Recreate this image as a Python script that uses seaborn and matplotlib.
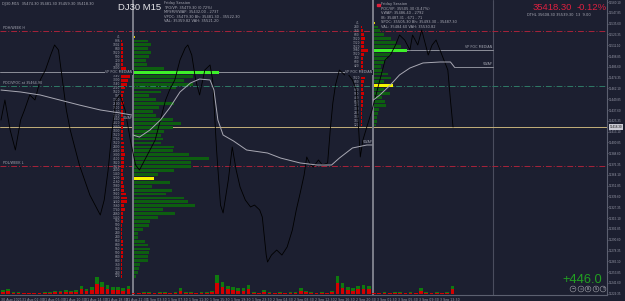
import numpy as np
import pandas as pd
import matplotlib
matplotlib.use("Agg")
import matplotlib.pyplot as plt
import matplotlib.transforms as mtransforms
import seaborn as sns

# ---------------- data ----------------
time_labels = ["30 Aug 2021", "31 Aug 02:30", "31 Aug 06:30", "31 Aug 10:30", "31 Aug 14:30",
               "31 Aug 18:30", "31 Aug 22:30", "1 Sep 03:30", "1 Sep 07:30", "1 Sep 11:30",
               "1 Sep 15:30", "1 Sep 19:30", "1 Sep 23:30", "2 Sep 04:30", "2 Sep 08:30",
               "2 Sep 12:30", "2 Sep 16:30", "2 Sep 20:30", "3 Sep 01:30", "3 Sep 05:30",
               "3 Sep 09:30", "3 Sep 13:30"]
bars_per_label = 16

price_ticks = [35560.10, 35547.85, 35535.60, 35523.35, 35511.10, 35498.85, 35486.60,
               35474.35, 35462.10, 35449.85, 35437.60, 35425.35, 35413.10, 35400.85,
               35388.60, 35376.35, 35364.10, 35351.85, 35339.60, 35327.35, 35315.10,
               35302.85, 35290.60, 35278.35, 35266.10, 35253.85, 35241.60, 35229.35]

price_bar = [0, 3, 7, 11, 15, 18, 22, 26, 30, 34, 38, 41, 44, 47, 50, 53, 57, 60, 64, 68,
             72, 76, 79, 82, 85, 88, 91, 95, 99, 103, 106, 110, 114, 118, 122, 126, 129, 133,
             137, 141, 143, 146, 149, 152, 156, 160, 162, 165, 168, 170, 174, 177, 180, 183,
             187, 191, 194, 198, 200, 203, 204, 207, 211, 215, 219, 223, 226, 229, 232, 234,
             237, 239, 243, 246, 250, 252, 254, 256, 259, 263, 265, 269, 272, 275, 277, 280,
             284, 287, 290, 294, 298, 302, 305, 309, 313, 315, 319, 322, 327, 330, 333, 336,
             339, 342, 344, 346]
price_close = [35426.3, 35449.0, 35415.0, 35392.3, 35426.3, 35437.7, 35454.7, 35449.0, 35471.7,
               35483.0, 35500.0, 35511.4, 35505.7, 35471.7, 35437.7, 35415.0, 35392.3, 35375.3,
               35358.3, 35341.3, 35329.9, 35318.6, 35335.6, 35369.6, 35415.0, 35449.0, 35454.7,
               35437.7, 35403.6, 35375.3, 35369.6, 35381.0, 35392.3, 35403.6, 35426.3, 35449.0,
               35460.3, 35471.7, 35494.4, 35508.0, 35511.4, 35500.0, 35471.7, 35454.7, 35483.0,
               35488.7, 35471.7, 35392.3, 35329.9, 35320.9, 35358.3, 35395.7, 35369.6, 35350.3,
               35335.6, 35327.7, 35329.9, 35324.3, 35316.3, 35273.2, 35265.3, 35273.2, 35278.9,
               35273.2, 35282.3, 35301.6, 35324.3, 35343.5, 35364.0, 35384.4, 35375.3, 35373.0,
               35381.0, 35375.3, 35377.6, 35415.0, 35445.6, 35466.0, 35483.0, 35477.4, 35479.6,
               35471.7, 35460.3, 35384.4, 35403.6, 35418.4, 35437.7, 35454.7, 35471.7, 35494.4,
               35500.0, 35511.4, 35522.7, 35517.0, 35505.7, 35522.7, 35511.4, 35528.4, 35500.0,
               35511.4, 35517.0, 35505.7, 35494.4, 35483.0, 35449.0, 35418.3]

vwap0_bar = [0, 15, 30, 45, 60, 76, 91, 100]
vwap0 = [35460.3, 35458.1, 35454.7, 35449.0, 35443.3, 35437.7, 35434.3, 35432.0]
vwap1_bar = [101, 106, 114, 122, 129, 137, 145, 152, 160, 163, 166, 170, 178, 188, 204, 214,
             229, 242, 253, 259, 269, 280, 284]
vwap1 = [35409.3, 35407.0, 35415.0, 35426.3, 35439.9, 35458.1, 35468.3, 35472.8, 35471.7,
         35460.3, 35426.3, 35409.3, 35402.5, 35392.3, 35388.9, 35383.2, 35377.6, 35375.3,
         35375.3, 35383.2, 35394.6, 35398.0, 35398.0]
vwap2_bar = [285, 290, 298, 305, 313, 323, 336, 344, 347]
vwap2 = [35449.0, 35454.7, 35466.0, 35477.4, 35485.3, 35491.0, 35492.1, 35492.1, 35486.4]

session_start = [101, 285]
future_line_bar = 376.5
row_step = 4.45

profile1_top = 35520.4
profile1_vol = [41, 836, 1002, 840, 1020, 900, 720, 780, 1800, 5100, 3540, 3000, 3540, 2520,
                1620, 900, 1320, 2400, 1500, 1140, 1320, 2340, 2820, 2340, 1800, 1620, 1740,
                1620, 2400, 2340, 3300, 4500, 3420, 3420, 2400, 1440, 1200, 2160, 1080, 2280,
                1920, 3000, 3240, 3660, 1740, 2460, 1440, 960, 900, 540, 240, 240, 660, 840,
                960, 900, 840, 840, 360, 300, 240, 120]
profile1_sell = [0, 60, 120, 120, 120, 120, 120, 120, 300, 600, 540, 420, 360, 240, 180, 120,
                 120, 180, 120, 120, 120, 180, 180, 120, 120, 120, 120, 180, 180, 180, 240, 180,
                 180, 180, 120, 120, 180, 120, 180, 180, 300, 360, 360, 180, 240, 120, 120, 120,
                 60, 60, 60, 60, 120, 120, 120, 120, 120, 60, 60, 60, 60, 60]
profile1_poc, profile1_val = 9, 36
profile1_val_vol = 1200

profile2_top = 35536.3
profile2_vol = [41, 240, 360, 600, 1020, 1320, 1620, 1980, 1020, 780, 600, 420, 540, 840, 1020,
                600, 420, 600, 960, 480, 660, 720, 300, 240, 180, 180, 120]
profile2_sell = [0, 60, 120, 180, 240, 180, 180, 420, 180, 120, 120, 120, 120, 180, 240, 180,
                 120, 120, 180, 120, 120, 120, 60, 60, 60, 60, 60]
profile2_poc, profile2_val = 7, 16
profile2_val_vol = 1140

vol_total = [400, 500, 200, 200, 150, 150, 150, 150, 200, 200,
             300, 300, 400, 300, 400, 800, 500, 700, 1700, 1200,
             900, 700, 700, 600, 800, 150, 150, 200, 200, 150,
             200, 200, 150, 200, 600, 200, 200, 150, 200, 200,
             300, 1900, 1200, 800, 700, 600, 600, 900, 200, 150,
             400, 200, 150, 200, 150, 200, 200, 600, 300, 200,
             150, 200, 150, 300, 1800, 1100, 700, 600, 800, 900,
             800, 150, 150, 200, 150, 200, 200, 150, 200, 150,
             600, 200, 150, 200, 150, 200, 800]
vol_sell = [200, 300, 100, 100, 80, 80, 80, 80, 100, 100,
            200, 200, 200, 200, 200, 500, 300, 400, 1000, 700,
            500, 400, 400, 300, 500, 80, 80, 100, 100, 80,
            100, 100, 80, 100, 300, 100, 100, 80, 100, 100,
            200, 1100, 700, 500, 400, 300, 300, 500, 100, 80,
            200, 100, 80, 100, 80, 100, 100, 300, 200, 100,
            80, 100, 80, 200, 1100, 600, 400, 300, 500, 500,
            500, 80, 80, 100, 80, 100, 100, 80, 100, 80,
            300, 100, 80, 100, 80, 100, 500]
bars_per_vol_group = 4

level_pdh = 35527.2
level_pdc = 35464.9
level_pdl = 35374.2
poc1_price = 35480.35
poc2_price = 35505.15
vwap2_last = 35486.4
last_price = 35418.30
change_pct = -0.12
profit = 446.0

# ---------------- style ----------------
BG = "#1c1f30"
GRID_TXT = "#9a9cab"
W, H = 625, 301
PX_PER_BAR = 1.3065
X0_BAR = -1 / PX_PER_BAR
X1_BAR = (607 - 1) / PX_PER_BAR
Y_TOP, Y_BOT = 35562.4, 35227.9
PROFILE_SCALE = 1.0 / (60 * PX_PER_BAR)

sns.set_theme(style="dark", rc={"axes.facecolor": BG, "figure.facecolor": BG})
plt.rcParams["font.family"] = ["DejaVu Sans"]

fig = plt.figure(figsize=(W / 100, H / 100), dpi=100, facecolor=BG)
ax = fig.add_axes([0, 6 / H, 607 / W, 295 / H])
ax.set_facecolor(BG)
ax.set_xlim(X0_BAR, X1_BAR)
ax.set_ylim(Y_BOT, Y_TOP)
ax.grid(False)
for s in ["left", "top"]:
    ax.spines[s].set_visible(False)
for s in ["right", "bottom"]:
    ax.spines[s].set_color("#5c6070")
    ax.spines[s].set_linewidth(0.8)

# axes ticks
ax.yaxis.tick_right()
ax.set_yticks(price_ticks)
ax.set_yticklabels([f"{p:.2f}" for p in price_ticks], family=["Liberation Sans"])
ax.tick_params(axis="y", labelsize=2.2, colors=GRID_TXT, length=1.0, width=0.4, pad=0.6)
xt = [i * bars_per_label for i in range(len(time_labels))]
ax.set_xticks(xt)
ax.set_xticklabels(time_labels, ha="left")
ax.tick_params(axis="x", labelsize=2.3, colors=GRID_TXT, length=1.5, width=0.4, pad=0.8)
ax.set_xlabel("")
ax.set_ylabel("")

# vertical separators
for sb in session_start:
    ax.axvline(sb, color="#7c7e8a", lw=1.4, zorder=2)
ax.axvline(future_line_bar, color="#4a4d5e", lw=0.8, zorder=1)

# key horizontal levels
ax.axhline(level_pdh, color="#a8233a", lw=0.7, ls=(0, (6, 2, 1, 2)), zorder=1)
ax.axhline(level_pdc, color="#2f7a66", lw=0.7, ls=(0, (6, 2, 1, 2)), zorder=1)
ax.axhline(level_pdl, color="#a8233a", lw=0.7, ls=(0, (6, 2, 1, 2)), zorder=1)
ax.axhline(last_price, color="#c4b07a", lw=0.7, zorder=1)
ax.plot([X0_BAR, session_start[1]], [poc1_price, poc1_price], color="#8d8f9a", lw=0.7, zorder=1)
ax.plot([session_start[1], future_line_bar], [poc2_price, poc2_price], color="#8d8f9a", lw=0.7, zorder=1)
ax.plot([vwap2_bar[-1], future_line_bar], [vwap2_last, vwap2_last], color="#8d8f9a", lw=0.7, zorder=1)

# volume profiles
def draw_profile(start, top, vols, sells, poc, val, val_vol, label_right, sell_left, hidden_price):
    levels = [top - row_step * i for i in range(len(vols))]
    colors = ["#0d5e10"] * len(vols)
    colors[poc] = "#3ef02a"
    colors[0] = "#e0d000"
    ax.barh(levels, [v * PROFILE_SCALE for v in vols], left=start + 0.8, height=row_step * 0.72,
            color=colors, lw=0, zorder=3)
    ax.barh([levels[val]], [val_vol * PROFILE_SCALE], left=start + 0.8, height=row_step * 0.8,
            color="#f5f500", lw=0, zorder=4)
    ax.barh(levels, [s * PROFILE_SCALE for s in sells], left=sell_left, height=row_step * 0.72,
            color="#d00000", lw=0, zorder=3)
    for lv, v in zip(levels, vols):
        # rows hidden behind the "VP POC MEDIAN" tag of the previous session
        if abs(lv - hidden_price) < row_step * 0.9:
            continue
        ax.text(label_right, lv, f"{v}", fontsize=2.1, color="#a3a5b0", ha="right", va="center",
                zorder=5)

draw_profile(session_start[0], profile1_top, profile1_vol, profile1_sell, profile1_poc,
             profile1_val, profile1_val_vol, 91.2, 91.9, poc1_price)
draw_profile(session_start[1], profile2_top, profile2_vol, profile2_sell, profile2_poc,
             profile2_val, profile2_val_vol, 274.5, 275.5, poc1_price)

# price and vwap lines (seaborn)
df_price = pd.DataFrame({"bar": price_bar, "close": price_close})
sns.lineplot(data=df_price, x="bar", y="close", ax=ax, color="#000000", lw=0.6,
             estimator=None, sort=False, zorder=6)
for vb, vv in [(vwap0_bar, vwap0), (vwap1_bar, vwap1), (vwap2_bar, vwap2)]:
    sns.lineplot(x=vb, y=vv, ax=ax, color="#a9a9b4", lw=0.7, estimator=None, sort=False, zorder=6)
ax.set_xlabel("")
ax.set_ylabel("")

# line labels
txt_kw = dict(fontsize=2.4, color="#a3a5b0", zorder=7)
tag = dict(boxstyle="square,pad=0.15", fc=BG, ec="none")
ax.text(session_start[0] - 0.5, poc1_price, "VP POC MEDIAN", ha="right", va="center", bbox=tag, **txt_kw)
ax.text(session_start[1] - 0.5, poc1_price, "VP POC MEDIAN", ha="right", va="center", bbox=tag, **txt_kw)
ax.text(future_line_bar - 0.5, poc2_price + 1.2, "VP POC MEDIAN", ha="right", va="bottom", **txt_kw)
ax.text(session_start[0] - 0.5, vwap0[-1] - 1.5, "VWAP", ha="right", va="top", **txt_kw)
ax.text(session_start[1] - 0.5, vwap1[-1] + 1.2, "VWAP", ha="right", va="bottom", **txt_kw)
ax.text(future_line_bar - 0.5, vwap2_last + 1.2, "VWAP", ha="right", va="bottom", **txt_kw)
ax.text(1.5, level_pdh + 1.2, "PDH/WEEK H", ha="left", va="bottom", **txt_kw)
ax.text(1.5, level_pdc + 1.2, "PDC/VPOC at 35464.90", ha="left", va="bottom", **txt_kw)
ax.text(1.5, level_pdl + 1.2, "PDL/WEEK L", ha="left", va="bottom", **txt_kw)

# current price box on axis
trans = mtransforms.blended_transform_factory(ax.transAxes, ax.transData)
ax.text(1.004, last_price, f"{last_price:.2f}", transform=trans, fontsize=2.2, color="#111111",
        family=["Liberation Sans"], ha="left", va="center", clip_on=False, zorder=8,
        bbox=dict(boxstyle="square,pad=0.2", fc="#c9c9d2", ec="none"))

# volume histogram (seaborn)
axv = fig.add_axes([0, 7 / H, 607 / W, 30 / H])
axv.patch.set_alpha(0)
vol_center = [i * bars_per_vol_group + 1.5 for i in range(len(vol_total))]
edges = [i * bars_per_vol_group - 0.5 for i in range(len(vol_total) + 1)]
sns.histplot(x=vol_center, weights=vol_total, bins=edges, shrink=0.7, color="#0f7a0f",
             alpha=1, linewidth=0, ax=axv)
sns.histplot(x=vol_center, weights=vol_sell, bins=edges, shrink=0.7, color="#d40000",
             alpha=1, linewidth=0, ax=axv)
axv.set_xlim(X0_BAR, X1_BAR)
axv.set_ylim(0, 3000)
axv.axis("off")

# text overlays
def ft(x, y, s, **kw):
    fig.text(x / W, 1 - y / H, s, **kw)

small = dict(fontsize=2.6, color="#a8a9b4", va="center", ha="left")
ft(2, 4, "DJ30,M15  35474.30 35481.30 35459.30 35418.30", **small)
ft(118, 8, "DJ30 M15", fontsize=6.8, color="#e6e6ea", family=["Liberation Sans"], va="center")
info1 = ["Friday Session", "TPO/VP: 35479.30 (0.72%)", "MFSM/VWAP: 35432.00 - 2737",
         "VPOC: 35479.30 Bh: 35481.30 - 35522.30", "VAL: 35359.82 VAH: 35521.20"]
for i, s in enumerate(info1):
    ft(164, 3 + 4.6 * i, s, **small)
info2 = ["Friday Session", "POC/VP: 35505.30 (0.47%)", "VWAP: 35486.40 - 2792",
         "IB: 35487.31 - 671 - 71", "SPOC: 35505.30 Bh: 35493.30 - 35487.30",
         "VAL: 35484.60 VAH: 35530.82"]
for i, s in enumerate(info2):
    ft(381, 4 + 4.6 * i, s, **small)
fig.patches.append(plt.Rectangle((377 / W, 1 - 6 / H), 2.5 / W, 2.5 / H, transform=fig.transFigure,
                                 color="#e0203a"))
ft(533, 8, f"{last_price:.2f}", fontsize=6.8, color="#dc1f40", family=["Liberation Sans"], va="center")
ft(577, 8, f"{change_pct:.2f}%", fontsize=6.8, color="#dc1f40", family=["Liberation Sans"], va="center")
ft(527, 15, "DTHL 35608.30 35539.30  13  9.00", **small)
ft(562, 280, f"+{profit:.1f}", fontsize=9.3, color="#22a022", family=["Liberation Sans"], va="center")
for xb, lab in zip([573, 581, 588, 596, 603], ["\u2212", "=", "B", "S", "T"]):
    ft(xb, 289, lab, fontsize=2.6, color="#c8c8d0", ha="center",
       bbox=dict(boxstyle="circle,pad=0.25", fc=BG, ec="#a0a0aa", lw=0.4), va="center")

fig.savefig("out.png", dpi=100, facecolor=BG)
